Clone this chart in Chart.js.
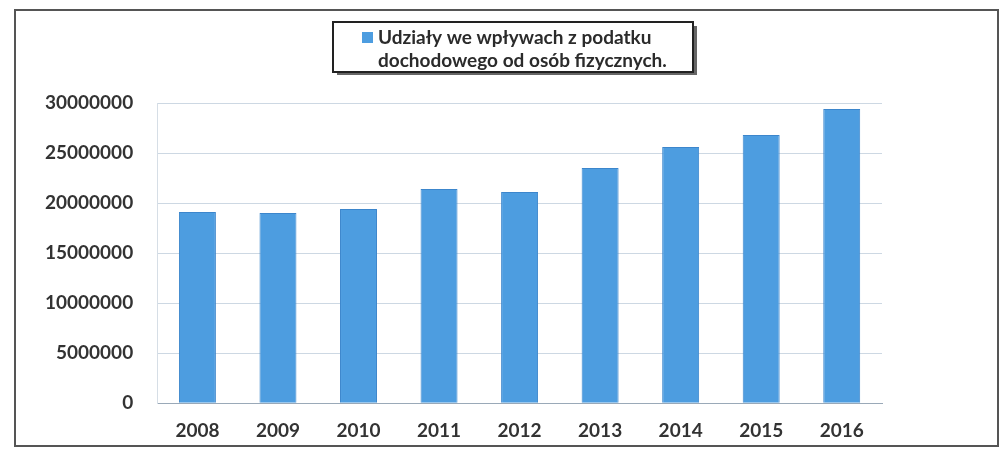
<!DOCTYPE html>
<html>
<head>
<meta charset="utf-8">
<script src="https://cdn.jsdelivr.net/npm/chart.js@4"></script>
<style>
  body { margin: 0; background: #fff; }
</style>
</head>
<body>
<canvas id="bars" width="1002" height="459"></canvas>
<script>
var years = ['2008', '2009', '2010', '2011', '2012', '2013', '2014', '2015', '2016'];
var pitShare = [19100000, 19000000, 19400000, 21400000, 21100000, 23500000, 25600000, 26800000, 29400000];
var legendLines = ['Udziały we wpływach z podatku', 'dochodowego od osób fizycznych.'];

// frame of the scanned page and the boxed legend on top
var framePlugin = {
    id: 'frame',
    beforeDraw: function (chart) {
        var c = chart.ctx;
        c.save();
        c.fillStyle = '#fff';
        c.fillRect(0, 0, chart.width, chart.height);
        c.strokeStyle = '#555';
        c.lineWidth = 2;
        c.strokeRect(15, 10, 983, 436);
        c.restore();
    },
    afterDraw: function (chart) {
        var c = chart.ctx;
        c.save();
        // shadow
        c.fillStyle = '#666';
        c.fillRect(337, 70, 360, 5);
        c.fillRect(692, 26, 5, 49);
        c.fillStyle = '#fff';
        c.fillRect(333, 22, 360, 50);
        c.strokeStyle = '#222';
        c.lineWidth = 2;
        c.strokeRect(333, 22, 360, 50);
        c.fillStyle = '#4d9de0';
        c.fillRect(362, 32, 11, 11);
        c.fillStyle = '#2b2b2b';
        c.font = 'bold 19px Lato';
        c.textBaseline = 'middle';
        c.fillText(legendLines[0], 378, 38);
        c.fillText(legendLines[1], 378, 61);
        c.restore();
    }
};

var ctx = document.getElementById('bars').getContext('2d');
var chart = new Chart(ctx, {
    type: 'bar',
    data: {
        labels: years,
        datasets: [{
            label: legendLines.join(' '),
            data: pitShare,
            backgroundColor: '#4d9de0',
            borderColor: '#3c86cc',
            borderWidth: 1,
            barPercentage: 0.9,
            categoryPercentage: 0.51
        }]
    },
    options: {
        responsive: false,
        animation: false,
        layout: { padding: { left: 21, right: 120, top: 103, bottom: 1 } },
        plugins: {
            legend: { display: false },
            tooltip: { enabled: false }
        },
        scales: {
            x: {
                grid: { display: false, drawTicks: false },
                border: { color: '#9aa9b8' },
                ticks: { color: '#333', font: { family: 'Lato', size: 19, weight: 'bold' }, padding: 16 }
            },
            y: {
                min: 0,
                max: 30000000,
                grid: { color: '#cdd8e3', drawTicks: false },
                border: { color: '#d6dee6' },
                ticks: {
                    stepSize: 5000000,
                    color: '#333',
                    font: { family: 'Lato', size: 19, weight: 'bold' },
                    padding: 24,
                    callback: function (v) { return String(v); }
                }
            }
        }
    },
    plugins: [framePlugin]
});
</script>
</body>
</html>
